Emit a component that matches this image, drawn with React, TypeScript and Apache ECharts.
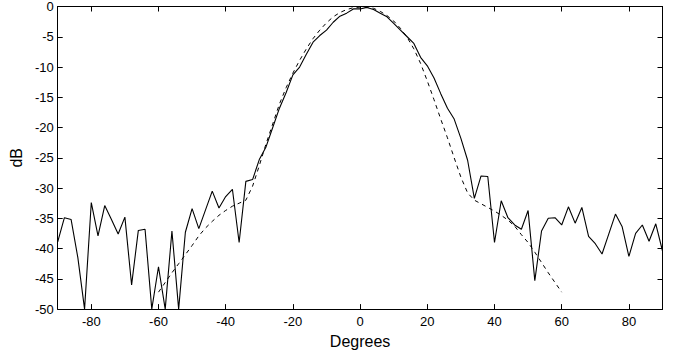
import React, { useEffect, useRef } from "react";
import * as echarts from "echarts";

const solidAngles = [
  -90, -88, -86, -84, -82, -80, -78, -76, -74, -72, -70, -68, -66, -64, -62, -60,
  -58, -56, -54, -52, -50, -48, -46, -44, -42, -40, -38, -36, -34, -32, -30, -28,
  -26, -24, -22, -20, -18, -16, -14, -12, -10, -8, -6, -4, -2, 0, 2, 4, 6, 8, 10,
  12, 14, 16, 18, 20, 22, 24, 26, 28, 30, 32, 34, 36, 38, 40, 42, 44, 46, 48, 50,
  52, 54, 56, 58, 60, 62, 64, 66, 68, 70, 72, 74, 76, 78, 80, 82, 84, 86, 88, 90,
];
const solidDb = [
  -38.9, -34.9, -35.2, -41.5, -50, -32.4, -37.9, -32.9, -35.2, -37.6, -34.8, -46.0,
  -37.0, -36.8, -50, -43.0, -50, -37.1, -50, -37.3, -33.4, -36.7, -33.6, -30.5,
  -33.3, -31.4, -30.2, -39.0, -28.9, -28.6, -25.3, -23.2, -20.0, -16.8, -14.2,
  -11.3, -10.0, -7.9, -5.9, -4.8, -3.9, -2.6, -1.6, -1.1, -0.4, -0.4, -0.15, -0.5,
  -1.1, -1.7, -2.8, -3.9, -5.0, -6.1, -8.4, -9.8, -11.8, -14.4, -16.8, -18.6,
  -21.8, -25.4, -31.7, -28.0, -28.1, -39.0, -32.1, -34.9, -36.1, -36.8, -33.7,
  -45.3, -37.1, -35.0, -34.9, -36.1, -33.1, -35.8, -33.2, -38.0, -39.2, -40.9,
  -37.6, -34.3, -36.4, -41.3, -37.5, -36.1, -38.8, -35.9, -40.4,
];

const dashedAngles = [
  -60, -58, -56, -54, -52, -50, -48, -46, -44, -42, -40, -38, -36, -34, -32, -30,
  -28, -26, -24, -22, -20, -18, -16, -14, -12, -10, -8, -6, -4, -2, 0, 2, 4, 6, 8,
  10, 12, 14, 16, 18, 20, 22, 24, 26, 28, 30, 32, 34, 36, 38, 40, 42, 44, 46, 48,
  50, 52, 54, 56, 58, 60,
];
const dashedDb = [
  -47.2, -45.6, -44.0, -42.5, -41.0, -39.5, -37.9, -36.6, -35.5, -34.5, -33.7,
  -33.0, -32.5, -32.0, -29.7, -26.3, -22.7, -19.4, -16.1, -13.4, -11.0, -8.9, -7.0,
  -5.3, -3.9, -2.7, -1.7, -1.0, -0.5, -0.2, -0.1, -0.1, -0.3, -0.8, -1.5, -2.4,
  -3.6, -5.1, -7.0, -9.4, -12.3, -15.4, -18.6, -21.7, -25.0, -28.2, -30.8, -32.0,
  -32.6, -33.2, -33.8, -34.5, -35.3, -36.3, -37.7, -39.0, -40.6, -42.3, -44.0,
  -45.6, -47.2,
];

const xTicks = [-80, -60, -40, -20, 0, 20, 40, 60, 80];

const FONT = "Liberation Sans, Arial, Helvetica, sans-serif";

export default function App() {
  const ref = useRef<HTMLDivElement>(null);
  useEffect(() => {
    document.body.style.margin = "0";
    const chart = echarts.init(ref.current!, null, { renderer: "svg" });
    const tickStyle = { color: "#000", width: 1 };
    chart.setOption({
      animation: false,
      backgroundColor: "#fff",
      grid: { left: 57, right: 20.5, top: 6, bottom: 37, show: false },
      xAxis: [
        {
          type: "value",
          min: -90,
          max: 90,
          position: "bottom",
          name: "Degrees",
          nameLocation: "middle",
          nameGap: 16,
          nameTextStyle: { color: "#000", fontSize: 16, fontFamily: FONT },
          axisLine: { show: true, onZero: false, lineStyle: { color: "#000", width: 1 } },
          axisTick: { show: true, inside: true, length: 5, customValues: xTicks, lineStyle: tickStyle },
          axisLabel: {
            show: true,
            customValues: xTicks,
            margin: 6,
            color: "#000",
            fontSize: 13,
            fontFamily: FONT,
          },
          splitLine: { show: false },
        },
        {
          type: "value",
          min: -90,
          max: 90,
          position: "top",
          axisLine: { show: true, onZero: false, lineStyle: { color: "#000", width: 1 } },
          axisTick: { show: true, inside: true, length: 5, customValues: xTicks, lineStyle: tickStyle },
          axisLabel: { show: false },
          splitLine: { show: false },
        },
      ],
      yAxis: [
        {
          type: "value",
          min: -50,
          max: 0,
          interval: 5,
          position: "left",
          name: "dB",
          nameLocation: "middle",
          nameGap: 28,
          nameTextStyle: { color: "#000", fontSize: 16, fontFamily: FONT },
          axisLine: { show: true, onZero: false, lineStyle: { color: "#000", width: 1 } },
          axisTick: { show: true, inside: true, length: 5, lineStyle: tickStyle },
          axisLabel: { show: true, margin: 4, color: "#000", fontSize: 13, fontFamily: FONT },
          splitLine: { show: false },
        },
        {
          type: "value",
          min: -50,
          max: 0,
          interval: 5,
          position: "right",
          axisLine: { show: true, onZero: false, lineStyle: { color: "#000", width: 1 } },
          axisTick: { show: true, inside: true, length: 5, lineStyle: tickStyle },
          axisLabel: { show: false },
          splitLine: { show: false },
        },
      ],
      series: [
        {
          type: "line",
          xAxisIndex: 0,
          yAxisIndex: 0,
          data: solidAngles.map((a, i) => [a, solidDb[i]]),
          showSymbol: false,
          symbol: "none",
          clip: true,
          lineStyle: { color: "#000", width: 1.1, type: "solid" },
        },
        {
          type: "line",
          xAxisIndex: 0,
          yAxisIndex: 0,
          data: dashedAngles.map((a, i) => [a, dashedDb[i]]),
          showSymbol: false,
          symbol: "none",
          clip: true,
          lineStyle: { color: "#000", width: 1, type: [4, 4] },
        },
      ],
    });
    return () => chart.dispose();
  }, []);
  return <div ref={ref} style={{ width: 683, height: 354 }} />;
}
